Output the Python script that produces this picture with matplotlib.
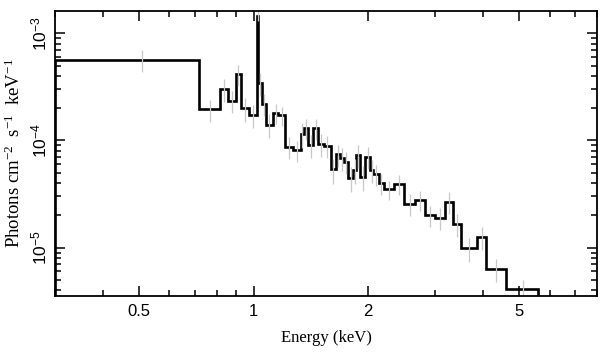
import numpy as np
import matplotlib
matplotlib.use("Agg")
import matplotlib.pyplot as plt
from matplotlib.ticker import FixedLocator, LogLocator, NullFormatter

# bin edges (keV) and unfolded flux per bin (photons cm^-2 s^-1 keV^-1)
bin_edges = [0.30, 0.719, 0.815, 0.857, 0.897, 0.924, 0.972, 1.021, 1.027, 1.052,
             1.077, 1.122, 1.161, 1.209, 1.271, 1.330, 1.352, 1.392, 1.435, 1.479,
             1.531, 1.593, 1.642, 1.687, 1.723, 1.774, 1.825, 1.859, 1.905, 1.963,
             2.023, 2.064, 2.137, 2.196, 2.340, 2.487, 2.658, 2.824, 3.000, 3.187,
             3.340, 3.512, 3.863, 4.087, 4.604, 5.61]
flux = [5.63e-4, 1.95e-4, 3.02e-4, 2.35e-4, 4.15e-4, 2.00e-4, 1.72e-4, 1.45e-3, 3.42e-4,
        2.20e-4, 1.40e-4, 1.81e-4, 1.71e-4, 8.69e-5, 8.06e-5, 1.15e-4, 1.30e-4, 9.08e-5,
        1.30e-4, 9.18e-5, 8.89e-5, 5.36e-5, 7.40e-5, 6.82e-5, 6.34e-5, 4.47e-5, 5.31e-5,
        7.33e-5, 4.57e-5, 7.06e-5, 5.31e-5, 4.82e-5, 3.97e-5, 3.51e-5, 3.93e-5, 2.56e-5,
        2.79e-5, 2.02e-5, 1.91e-5, 2.67e-5, 1.65e-5, 9.86e-6, 1.25e-5, 6.32e-6, 4.12e-6]
flux_err = [1.3e-4, 4.5e-5, 7.5e-5, 5.5e-5, 9e-5, 5e-5, 4e-5, 1.5e-4, 8e-5,
            5e-5, 3.5e-5, 4e-5, 3.5e-5, 2e-5, 1.8e-5, 3e-5, 2.8e-5, 2.2e-5,
            2.8e-5, 2.2e-5, 2e-5, 1.4e-5, 1.7e-5, 1.6e-5, 1.5e-5, 1.2e-5, 1.4e-5,
            1.8e-5, 1.2e-5, 1.7e-5, 1.3e-5, 1.1e-5, 9e-6, 7e-6, 8e-6, 6e-6,
            6e-6, 4.5e-6, 4.5e-6, 6e-6, 4e-6, 2.5e-6, 3e-6, 1.5e-6, 9e-7]

x_ticks = [0.5, 1, 2, 5]
x_ticklabels = ["0.5", "1", "2", "5"]
y_ticks = [1e-5, 1e-4, 1e-3]
y_ticklabels = [r"$\mathsf{10^{-5}}$", r"$\mathsf{10^{-4}}$", r"$\mathsf{10^{-3}}$"]

plt.rcParams["mathtext.fontset"] = "custom"
plt.rcParams["mathtext.rm"] = "Liberation Serif"
plt.rcParams["mathtext.sf"] = "Liberation Sans"
plt.rcParams["mathtext.default"] = "rm"
sans = ["Liberation Sans", "DejaVu Sans"]
serif = ["Liberation Serif", "DejaVu Serif"]

xlo, xhi = 0.3, 8.0
ylo, yhi = 3.56e-6, 1.614e-3

fig = plt.figure(figsize=(6.08, 3.57), dpi=100)
ax = fig.add_axes([0.0905, 0.1717, 0.8915, 0.7975])

edges = np.array(bin_edges)
f = np.array(flux)
centers = (edges[:-1] + edges[1:]) / 2

ax.errorbar(centers, f, yerr=flux_err, fmt="none", ecolor="#c8c8c8", elinewidth=0.9, capsize=0)
ax.stairs(f, edges, baseline=ylo, color="black", lw=1.9)

ax.set_xscale("log")
ax.set_yscale("log")
ax.set_xlim(xlo, xhi)
ax.set_ylim(ylo, yhi)

ax.xaxis.set_major_locator(FixedLocator(x_ticks))
ax.set_xticklabels(x_ticklabels, family=sans, fontsize=12)
ax.xaxis.set_minor_locator(LogLocator(base=10, subs=np.arange(2, 10)))
ax.xaxis.set_minor_formatter(NullFormatter())

ax.yaxis.set_major_locator(FixedLocator(y_ticks))
ax.set_yticklabels(y_ticklabels, fontsize=12.5, rotation=90, va="center")
ax.yaxis.set_minor_locator(LogLocator(base=10, subs=np.arange(2, 10)))
ax.yaxis.set_minor_formatter(NullFormatter())

ax.tick_params(which="both", direction="in", top=True, right=True, width=1.1)
ax.tick_params(which="major", length=7)
ax.tick_params(which="minor", length=4)
ax.tick_params(axis="x", pad=6)
ax.tick_params(axis="y", pad=3)
for s in ax.spines.values():
    s.set_linewidth(1.3)

ax.set_xlabel("Energy (keV)", family=serif, fontsize=12, labelpad=8)
ax.set_ylabel(r"Photons cm$^{-2}$  s$^{-1}$  keV$^{-1}$", family=serif, fontsize=13.5, labelpad=5)

fig.savefig("out.png", dpi=100)
